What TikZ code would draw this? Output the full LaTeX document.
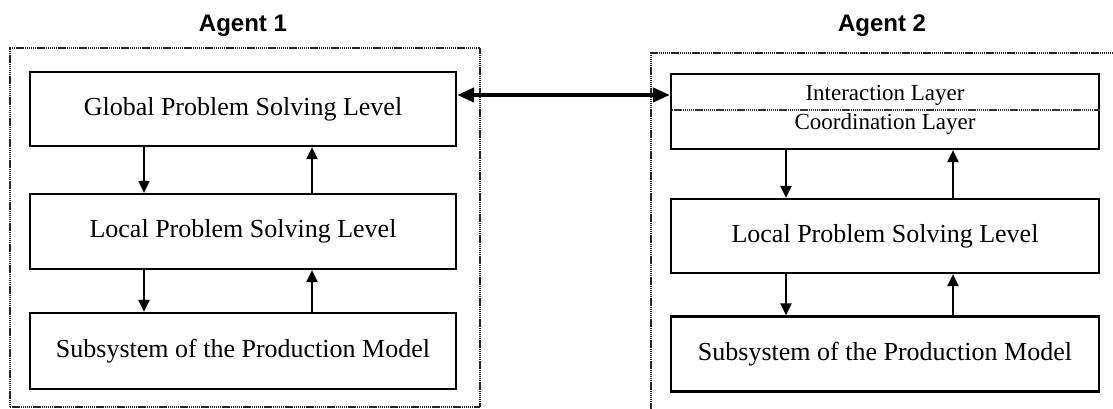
\documentclass[tikz,border=0pt]{standalone}
\usepackage{fontspec}
\setmainfont{Liberation Serif}
\newfontfamily\titlefont{Liberation Sans}
\usetikzlibrary{arrows.meta}
\begin{document}
\begin{tikzpicture}[x=1pt,y=-1pt,
  box/.style={draw, line width=2.2pt, minimum width=426pt, inner sep=0pt, font=\fontsize{26}{30}\selectfont},
  frame/.style={draw=black!85, line width=2pt, dash pattern=on 1.4pt off 0.7pt, inner sep=0pt},
  sep/.style={draw=black!80, line width=1.5pt, dash pattern=on 1.4pt off 0.7pt},
  layertxt/.style={inner sep=0pt, font=\fontsize{23}{27}\selectfont},
  flow/.style={line width=2.2pt, -{Triangle[length=12pt,width=11pt]}},
  link/.style={line width=4pt, {Triangle[length=17pt,width=14pt]}-{Triangle[length=17pt,width=14pt]}},
  title/.style={font=\titlefont\bfseries\fontsize{24}{28}\selectfont, anchor=base, inner sep=0pt}]
\useasboundingbox (0,0) rectangle (1113,409);
\fill[white] (0,0) rectangle (1113,409);
\clip (0,0) rectangle (1113,409);

% frames
\node[frame, minimum width=470pt, minimum height=359pt] (f1) at (245,227.5) {};
\node[frame, minimum width=466pt, minimum height=360pt] (f2) at (884,233) {};

% titles
\node[title] (t1) at (243,32) {Agent 1};
\node[title] (t2) at (882,32) {Agent 2};

% agent 1
\node[box, minimum height=74pt] (g1) at (243,109) {Global Problem Solving Level};
\node[box, minimum height=75pt] (l1) at (243,231.5) {Local Problem Solving Level};
\node[box, minimum height=76pt] (s1) at (243,351) {Subsystem of the Production Model};

% agent 2
\node[box, minimum width=428pt, minimum height=75pt] (c2) at (885,111.5) {};
\node[layertxt] (il) at (885,95) {Interaction Layer};
\node[layertxt] (cl) at (885,124) {Coordination Layer};
\draw[sep] ([yshift=1.5pt]c2.west) -- ([yshift=1.5pt]c2.east);
\node[box, minimum width=428pt, minimum height=74pt] (l2) at (885,236) {Local Problem Solving Level};
\node[box, minimum width=428pt, minimum height=75pt] (s2) at (885,354) {Subsystem of the Production Model};

% flows agent 1
\draw[flow] ([xshift=-99pt]g1.south) -- ([xshift=-99pt]l1.north);
\draw[flow] ([xshift=69pt]l1.north) -- ([xshift=69pt]g1.south);
\draw[flow] ([xshift=-99pt]l1.south) -- ([xshift=-99pt]s1.north);
\draw[flow] ([xshift=69pt]s1.north) -- ([xshift=69pt]l1.south);

% flows agent 2
\draw[flow] ([xshift=-99pt]c2.south) -- ([xshift=-99pt]l2.north);
\draw[flow] ([xshift=68pt]l2.north) -- ([xshift=68pt]c2.south);
\draw[flow] ([xshift=-99pt]l2.south) -- ([xshift=-99pt]s2.north);
\draw[flow] ([xshift=68pt]s2.north) -- ([xshift=68pt]l2.south);

% link between agents
\draw[link] ([yshift=14pt]g1.east) -- ([yshift=16.5pt]c2.west);
\end{tikzpicture}
\end{document}
